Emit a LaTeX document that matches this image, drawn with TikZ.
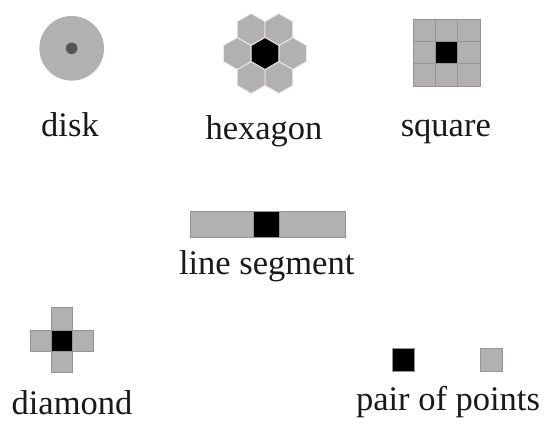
\documentclass[tikz,border=0pt]{standalone}
\usepackage{fontspec}
\setmainfont{Liberation Serif}
\usetikzlibrary{calc}
\definecolor{cellgray}{RGB}{178,176,176}
\definecolor{edgegray}{RGB}{150,148,148}
\definecolor{dotgray}{RGB}{85,85,85}
\definecolor{txt}{RGB}{25,25,25}
\tikzset{
  lbl/.style={anchor=base, inner sep=0pt, text=txt, font=\fontsize{34.5}{40}\selectfont},
  graycell/.style={fill=cellgray, draw=edgegray, line width=0.5pt},
  blackcell/.style={fill=black, draw=edgegray, line width=0.5pt},
  hexcell/.style={fill=cellgray, draw=white!75!cellgray, line width=0.9pt},
}
\begin{document}
\begin{tikzpicture}[x=1pt, y=-1pt]
\useasboundingbox (0,0) rectangle (551,423);
% disk
\fill[cellgray] (71.7,48.3) circle (32.3pt);
\fill[dotgray] (71.7,48.3) circle (5.8pt);
\node[lbl] (disk) at (70,136) {disk};
% hexagon
\foreach \a in {0,60,...,300}{
  \path[hexcell] ($(265,53.5)+(\a:27.71)$) ++(90:16) -- ++(210:16) -- ++(270:16) -- ++(330:16) -- ++(30:16) -- ++(90:16) -- cycle;
}
\path[fill=black, draw=white!75!cellgray, line width=0.9pt] (265,53.5) ++(90:16) -- ++(210:16) -- ++(270:16) -- ++(330:16) -- ++(30:16) -- ++(90:16) -- cycle;
\node[lbl] (hexagon) at (264,139) {hexagon};
% square
\foreach \i in {0,1,2}{\foreach \j in {0,1,2}{
  \path[graycell] (413+\i*22.33,19+\j*22.33) rectangle ++(22.33,22.33);
}}
\path[blackcell] (413+22.33,19+22.33) rectangle ++(22.33,22.33);
\node[lbl] (square) at (445.8,136.7) {square};
% line segment
\path[graycell] (190,211.7) rectangle (345,237.3);
\path[blackcell] (253,211.7) rectangle (279.5,237.3);
\node[lbl] (lineseg) at (266.7,274.3) {line segment};
% diamond
\path[graycell] (51.5,307) rectangle (72.5,372.7);
\path[graycell] (30,330) rectangle (93.3,351);
\path[blackcell] (51.5,330) rectangle (72.5,351);
\node[lbl] (diamond) at (72,414.5) {diamond};
% pair of points
\path[blackcell] (392.3,348.3) rectangle (414,371);
\path[graycell] (480,348.3) rectangle (502.7,371);
\node[lbl] (pair) at (448,410.5) {pair of points};
\end{tikzpicture}
\end{document}
